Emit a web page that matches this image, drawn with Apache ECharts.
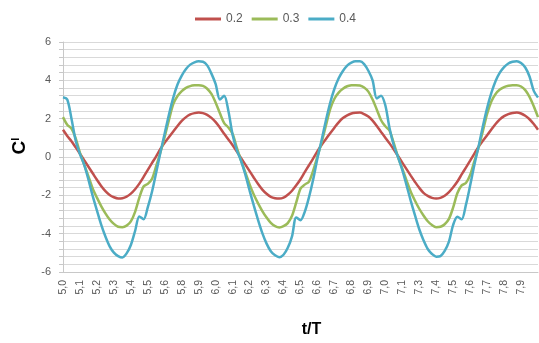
<!DOCTYPE html>
<html>
<head>
<meta charset="utf-8">
<title>Cl vs t/T</title>
<script src="https://cdn.jsdelivr.net/npm/echarts@6/dist/echarts.min.js"></script>
<style>
  html, body { margin: 0; padding: 0; background: #fff; }
  #chart { width: 539px; height: 343px; }
</style>
</head>
<body>
<div id="chart"></div>
<script>
// Lift coefficient over three periods, four samples per labelled tick
const seriesNames = ['0.2', '0.3', '0.4'];

const tickLabels = ['5,0','5,1','5,2','5,3','5,4','5,5','5,6','5,8','5,9','6,0',
  '6,1','6,2','6,3','6,4','6,5','6,6','6,7','6,8','6,9','7,0',
  '7,1','7,3','7,4','7,5','7,6','7,7','7,8','7,9'];
const samplesPerTick = 4;

const cl02 = [
  1.42, 1.1, 0.82, 0.5, 0.17, -0.17, -0.51, -0.85, -1.19, -1.51,
  -1.78, -1.98, -2.1, -2.16, -2.15, -2.07, -1.91, -1.68, -1.39, -1.04,
  -0.67, -0.31, 0.05, 0.43, 0.75, 1.04, 1.33, 1.62, 1.88, 2.08,
  2.22, 2.29, 2.32, 2.29, 2.2, 2.04, 1.82, 1.53, 1.21, 0.91,
  0.61, 0.28, -0.06, -0.4, -0.74, -1.08, -1.41, -1.7, -1.92, -2.08,
  -2.15, -2.17, -2.12, -1.97, -1.76, -1.48, -1.16, -0.79, -0.43, -0.07,
  0.31, 0.64, 0.94, 1.24, 1.53, 1.81, 2.03, 2.17, 2.27, 2.31,
  2.32, 2.24, 2.11, 1.9, 1.62, 1.31, 1.01, 0.71, 0.39, 0.05,
  -0.29, -0.63, -0.97, -1.3, -1.61, -1.87, -2.03, -2.13, -2.17, -2.13,
  -2.02, -1.83, -1.58, -1.28, -0.91, -0.55, -0.19, 0.18, 0.54, 0.85,
  1.14, 1.43, 1.72, 1.96, 2.13, 2.24, 2.3, 2.32, 2.27, 2.15,
  1.97, 1.72, 1.42
];

const cl03 = [
  2.08, 1.68, 1.48, 0.97, 0.21, -0.4, -1.01, -1.64, -2.12, -2.56,
  -2.94, -3.26, -3.49, -3.64, -3.66, -3.58, -3.36, -2.86, -2.12, -1.54,
  -1.4, -1.13, -0.45, 0.26, 1.07, 1.95, 2.76, 3.18, 3.44, 3.61,
  3.7, 3.74, 3.75, 3.71, 3.56, 3.29, 2.83, 2.28, 1.77, 1.54,
  1.2, 0.47, -0.2, -0.81, -1.43, -1.97, -2.42, -2.82, -3.16, -3.44,
  -3.61, -3.68, -3.61, -3.45, -3.07, -2.37, -1.65, -1.44, -1.28, -0.7,
  0.03, 0.79, 1.65, 2.5, 3.04, 3.36, 3.56, 3.69, 3.74, 3.75,
  3.73, 3.63, 3.41, 3.0, 2.47, 1.92, 1.6, 1.37, 0.72, 0.0,
  -0.61, -1.22, -1.81, -2.28, -2.7, -3.05, -3.35, -3.55, -3.66, -3.64,
  -3.51, -3.23, -2.63, -1.88, -1.48, -1.36, -0.94, -0.21, 0.51, 1.35,
  2.25, 2.9, 3.29, 3.52, 3.65, 3.72, 3.75, 3.75, 3.68, 3.49,
  3.14, 2.65, 2.08
];

const cl04 = [
  3.12, 3.0, 2.0, 0.85, 0.15, -0.41, -1.18, -2.03, -2.79, -3.53,
  -4.15, -4.66, -4.99, -5.17, -5.24, -5.03, -4.59, -3.86, -3.1, -3.25,
  -2.61, -1.8, -0.78, 0.27, 1.25, 2.23, 3.1, 3.78, 4.25, 4.59,
  4.82, 4.94, 4.99, 4.97, 4.78, 4.35, 3.8, 3.0, 3.2, 2.4,
  1.15, 0.35, -0.21, -0.92, -1.75, -2.54, -3.29, -3.97, -4.52, -4.92,
  -5.13, -5.23, -5.1, -4.74, -4.14, -3.15, -3.3, -2.86, -2.1, -1.16,
  -0.06, 0.9, 1.92, 2.83, 3.56, 4.11, 4.49, 4.77, 4.92, 4.99,
  4.99, 4.85, 4.5, 4.0, 3.05, 3.2, 2.7, 1.5, 0.6, -0.01,
  -0.67, -1.47, -2.29, -3.05, -3.77, -4.34, -4.8, -5.06, -5.2, -5.17,
  -4.9, -4.42, -3.54, -3.12, -3.25, -2.5, -1.49, -0.41, 0.56, 1.6,
  2.55, 3.34, 3.97, 4.4, 4.69, 4.88, 4.97, 5.0, 4.9, 4.67,
  4.2, 3.45, 3.1
];

const colors = ['#C0504D', '#9BBB59', '#4BACC6'];
const gridColor = '#d9d9d9';
const textColor = '#595959';
const fontFamily = '"Liberation Sans", Arial, sans-serif';

const categories = cl02.map((_, i) => i);

const chart = echarts.init(document.getElementById('chart'), null, { renderer: 'canvas' });

const makeSeries = (name, data, color) => ({
  name: name,
  type: 'line',
  data: data,
  showSymbol: false,
  smooth: 0.3,
  color: color,
  lineStyle: { width: 2.5, color: color },
  emphasis: { disabled: true }
});

chart.setOption({
  animation: false,
  backgroundColor: '#ffffff',
  textStyle: { fontFamily: fontFamily },
  legend: {
    top: 8,
    left: 190,
    icon: 'rect',
    itemWidth: 26,
    itemHeight: 3,
    itemGap: 9,
    textStyle: { fontSize: 12, color: textColor, fontFamily: fontFamily },
    data: seriesNames
  },
  grid: { left: 63, right: 1, top: 42, bottom: 70, containLabel: false },
  xAxis: {
    type: 'category',
    data: categories,
    boundaryGap: false,
    axisLine: { show: true, onZero: false, lineStyle: { color: '#c8c8c8', width: 1 } },
    axisTick: { show: false },
    splitLine: { show: false },
    axisLabel: {
      interval: samplesPerTick - 1,
      rotate: 90,
      margin: 8,
      fontSize: 10.5,
      color: textColor,
      formatter: (v, idx) => tickLabels[idx / samplesPerTick] || ''
    },
    name: 't/T',
    nameLocation: 'middle',
    nameGap: 50,
    nameTextStyle: {
      fontSize: 16,
      fontWeight: 'bold',
      color: '#000',
      fontFamily: fontFamily,
      padding: [0, 0, 0, 22]
    }
  },
  yAxis: {
    type: 'value',
    min: -6,
    max: 6,
    interval: 2,
    axisLine: { show: true, lineStyle: { color: '#c8c8c8', width: 1 } },
    axisTick: { show: true, inside: false, length: 4, lineStyle: { color: '#c8c8c8' } },
    minorTick: { show: true, splitNumber: 5, length: 4, lineStyle: { color: '#c8c8c8' } },
    splitLine: { show: true, lineStyle: { color: gridColor, width: 1 } },
    minorSplitLine: { show: true, lineStyle: { color: gridColor, width: 1 } },
    axisLabel: { margin: 12, fontSize: 11, color: textColor },
    name: '{c|C}{s|l}',
    nameLocation: 'middle',
    nameRotate: 90,
    nameGap: 34,
    nameTextStyle: {
      padding: [0, 0, 0, 22],
      rich: {
        c: { fontSize: 19, fontWeight: 'bold', color: '#000', fontFamily: fontFamily },
        s: { fontSize: 11, fontWeight: 'bold', color: '#000', fontFamily: fontFamily, verticalAlign: 'top' }
      }
    }
  },
  series: [
    makeSeries(seriesNames[0], cl02, colors[0]),
    makeSeries(seriesNames[1], cl03, colors[1]),
    makeSeries(seriesNames[2], cl04, colors[2])
  ]
});
</script>
</body>
</html>
